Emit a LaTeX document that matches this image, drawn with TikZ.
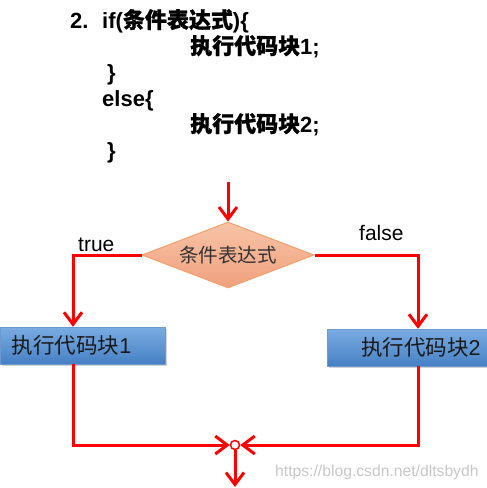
\documentclass[tikz,border=0pt]{standalone}
\usepackage{fontspec}
\setmainfont{Liberation Sans}
\newfontfamily\cjk{Noto Sans CJK SC}
\newfontfamily\cjkb[FakeBold=1.1]{Noto Sans CJK SC}
\usetikzlibrary{shapes.geometric,arrows.meta,shadows}
\definecolor{flowred}{RGB}{255,0,0}
\definecolor{boxtop}{RGB}{122,172,226}
\definecolor{boxbot}{RGB}{70,128,196}
\definecolor{dtop}{RGB}{247,196,166}
\definecolor{dbot}{RGB}{240,160,125}
\definecolor{dborder}{RGB}{243,160,110}
\tikzset{
  codeline/.style={anchor=base west,inner sep=0pt,font=\fontsize{22}{24}\selectfont\bfseries},
  flow/.style={draw=flowred,line width=3pt},
  arr/.style={flow,-{Straight Barb[length=12pt,width=18pt,line width=3pt]}},
  cond/.style={diamond,draw=dborder,line width=1pt,top color=dtop,bottom color=dbot,
    minimum width=172pt,minimum height=66pt,inner sep=0pt,aspect=2.6,
    font=\cjk\fontsize{19.5}{21}\selectfont,text=black!80},
  blk/.style={rectangle,top color=boxtop,bottom color=boxbot,draw=boxbot!80!white,line width=0.5pt,
    minimum height=37pt,inner ysep=0pt,font=\fontsize{21.5}{23}\selectfont,text=black!90,
    drop shadow={opacity=0.35,shadow xshift=1.5pt,shadow yshift=-1.5pt}},
  lbl/.style={inner sep=0pt,font=\fontsize{21}{23}\selectfont},
  junc/.style={circle,draw=flowred,fill=white,line width=1.5pt,minimum size=9pt,inner sep=0pt},
}
\begin{document}
\begin{tikzpicture}[x=1pt,y=-1pt]
\useasboundingbox (0,0) rectangle (487,488);
% code
\node[codeline] (c0) at (70,28) {2.};
\node[codeline] (c1) at (102,28) {if({\cjkb 条件表达式})\{};
\node[codeline] (c2) at (190,54) {{\cjkb 执行代码块}1;};
\node[codeline] (c3) at (107,80) {\}};
\node[codeline] (c4) at (102,106) {else\{};
\node[codeline] (c5) at (190,132) {{\cjkb 执行代码块}2;};
\node[codeline] (c6) at (107,158) {\}};
% flowchart
\coordinate (S) at (228,182);
\coordinate (L) at (73,0);
\coordinate (R) at (418,0);
\coordinate (E) at (235,487);
\node[cond] (d) at (228,255) {条件表达式};
\node[blk,text width=141pt,align=left,inner xsep=12pt] (b1) at (82.5,345.5) {{\cjk 执行代码块}1};
\node[blk,text width=146pt,align=right,inner xsep=7pt] (b2) at (407.5,347.5) {{\cjk 执行代码块}2};
\node[junc] (m) at (235,445) {};
\draw[arr] (S) -- (d.north);
\draw[arr] (d.west) -| (b1.north -| L);
\draw[arr] (d.east) -| (b2.north -| R);
\draw[arr] (b1.south -| L) |- (m.west);
\draw[arr] (b2.south -| R) |- (m.east);
\draw[arr] (m.south) -- (E);
\node[lbl,anchor=base west] (t) at (78,251) {true};
\node[lbl,anchor=base west] (f) at (359,240) {false};
\node[anchor=base west,inner sep=0pt,font=\fontsize{15.7}{17}\selectfont,text=black!22] (w) at (275,476) {https://blog.csdn.net/dltsbydh};
\end{tikzpicture}
\end{document}
